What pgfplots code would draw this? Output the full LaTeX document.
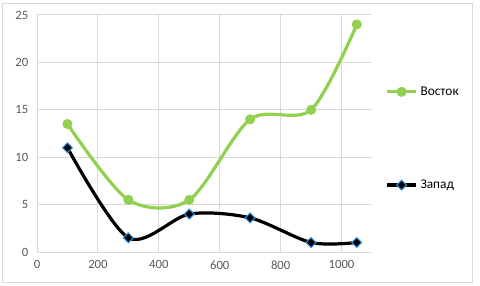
\documentclass[border=0pt]{standalone}
\usepackage{fontspec}
\setmainfont{Carlito}
\usepackage{pgfplots}
\pgfplotsset{compat=1.18}
\definecolor{grn}{HTML}{92D050}
\definecolor{bluedge}{HTML}{2F8FE0}
\definecolor{gridc}{HTML}{D9D9D9}
\definecolor{txt}{HTML}{595959}
\begin{document}
\begin{tikzpicture}
\begin{axis}[
  name=ax,
  scale only axis,
  width=251.25pt, height=177.75pt,
  xmin=0, xmax=1100, ymin=0, ymax=25,
  xtick={0,200,400,600,800,1000},
  ytick={0,5,10,15,20,25},
  /pgf/number format/1000 sep={},
  axis lines=left,
  axis line style={gridc, line width=0.75pt, -},
  grid=major,
  major grid style={gridc, line width=0.75pt},
  major tick length=0pt,
  tick label style={font=\fontsize{9.5}{11}\selectfont, text=txt},
  /pgf/number format/assume math mode=true,
  xticklabel style={yshift=-3pt},
  yticklabel style={xshift=-3pt},
  legend style={at={(1.039,0.479)}, anchor=west, draw=none, fill=none,
    font=\fontsize{10}{12}\selectfont, text=black, row sep=58pt, inner sep=0pt},
  legend cell align=left,
  legend image code/.code={\draw[mark repeat=2,mark phase=2] plot coordinates {(0pt,0pt) (11pt,0pt) (22pt,0pt)};},
  clip=false,
]
\addplot[grn, line width=2.4pt, smooth, tension=0.5, mark=*, mark size=3.5pt, mark options={fill=grn, draw=grn, line width=0.5pt}]
  coordinates {(100,13.5) (300,5.5) (500,5.5) (700,14) (900,15) (1050,24)};
\addlegendentry{Восток}
\addplot[black, line width=2.4pt, smooth, tension=0.5, mark=square*, mark size=2.6pt, mark options={fill=black, draw=bluedge, line width=0.8pt, rotate=45}]
  coordinates {(100,11) (300,1.5) (500,4) (700,3.6) (900,1) (1050,1)};
\addlegendentry{Запад}
\end{axis}
\draw[gridc, line width=0.75pt] ([shift={(-25.5pt,-22.5pt)}]ax.south west) rectangle ([shift={(75pt,8.25pt)}]ax.north east);
\path ([shift={(-27.75pt,-24.75pt)}]ax.south west) rectangle ([shift={(81pt,11.25pt)}]ax.north east);
\end{tikzpicture}
\end{document}
